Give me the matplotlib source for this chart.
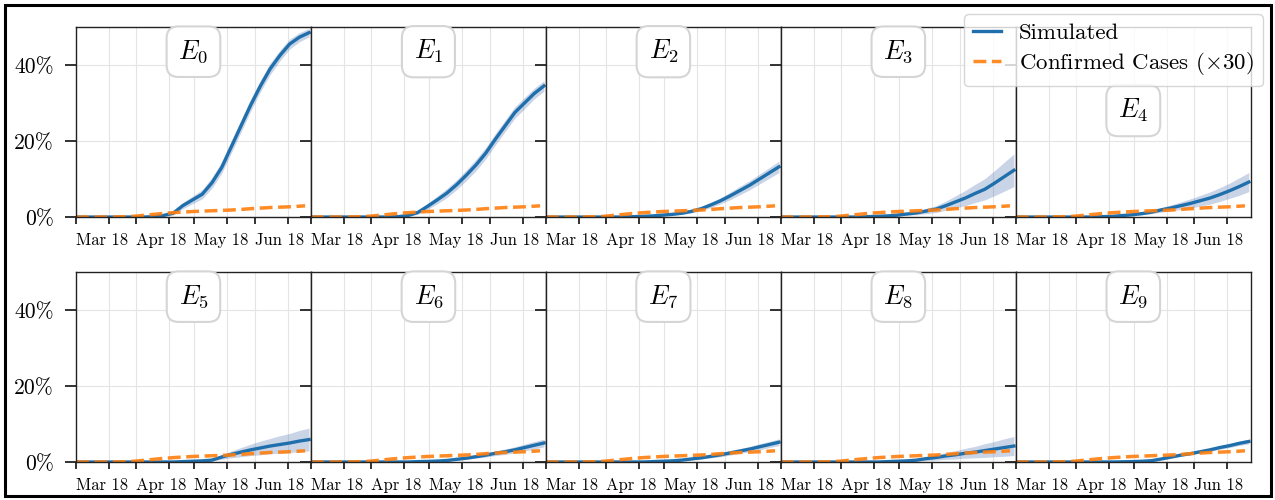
import datetime as dt
import matplotlib
matplotlib.use("Agg")
import matplotlib.pyplot as plt
import matplotlib.dates as mdates
from matplotlib.ticker import PercentFormatter, MultipleLocator
from matplotlib.patches import Rectangle

plt.rcParams['font.family'] = 'cmr10'
plt.rcParams['mathtext.fontset'] = 'cm'
plt.rcParams['axes.formatter.use_mathtext'] = True

# days after 1 March (one point every five days)
sim_days = [0, 5, 10, 15, 20, 25, 30, 35, 40, 45, 50, 55, 60, 65, 70, 75, 80, 85, 90, 95, 100, 105, 110, 115, 120]
conf_days = [0, 5, 10, 15, 20, 25, 30, 35, 40, 45, 50, 55, 60, 65, 70, 75, 80, 85, 90, 95, 100, 105, 110, 115, 118]

# confirmed cases x30, in percent
confirmed = [0, 0, 0, 0, 0.02, 0.08, 0.2, 0.45, 0.7, 0.95, 1.15, 1.3, 1.45, 1.55, 1.65,
             1.75, 1.85, 2.0, 2.2, 2.35, 2.5, 2.6, 2.7, 2.85, 2.95]

# simulated mean, in percent
sim_mean = [
    [0, 0, 0, 0, 0, 0, 0, 0, 0.1, 0.4, 1.0, 3.0, 4.5, 6.0, 9.0, 13.0, 18.5, 24.0, 29.5, 34.5, 39.0, 42.5, 45.5, 47.3, 48.5],
    [0, 0, 0, 0, 0, 0, 0, 0, 0, 0.1, 0.4, 1.2, 2.8, 4.5, 6.3, 8.5, 11.0, 13.7, 16.8, 20.5, 24.0, 27.5, 30.0, 32.5, 34.5],
    [0, 0, 0, 0, 0, 0, 0, 0, 0, 0.1, 0.2, 0.3, 0.5, 0.7, 1.0, 1.5, 2.2, 3.2, 4.3, 5.6, 7.0, 8.4, 10.0, 11.6, 13.2],
    [0, 0, 0, 0, 0, 0, 0, 0, 0, 0.1, 0.2, 0.3, 0.5, 0.8, 1.1, 1.6, 2.1, 3.0, 4.0, 5.0, 6.2, 7.3, 8.9, 10.6, 12.3],
    [0, 0, 0, 0, 0, 0, 0, 0, 0, 0.1, 0.2, 0.4, 0.6, 0.9, 1.3, 1.9, 2.4, 3.0, 3.6, 4.3, 5.0, 5.9, 6.9, 8.0, 9.2],
    [0, 0, 0, 0, 0, 0, 0, 0, 0, 0, 0, 0.1, 0.2, 0.3, 0.5, 1.3, 2.0, 2.6, 3.2, 3.7, 4.2, 4.6, 5.0, 5.5, 5.9],
    [0, 0, 0, 0, 0, 0, 0, 0, 0, 0, 0, 0.1, 0.15, 0.25, 0.4, 0.7, 1.0, 1.4, 1.8, 2.3, 2.7, 3.2, 3.8, 4.4, 5.0],
    [0, 0, 0, 0, 0, 0, 0, 0, 0, 0, 0, 0.1, 0.2, 0.3, 0.5, 0.8, 1.1, 1.5, 1.9, 2.4, 2.9, 3.4, 4.0, 4.6, 5.2],
    [0, 0, 0, 0, 0, 0, 0, 0, 0, 0, 0, 0.1, 0.2, 0.3, 0.5, 0.9, 1.2, 1.6, 1.9, 2.3, 2.6, 3.0, 3.4, 3.8, 4.2],
    [0, 0, 0, 0, 0, 0, 0, 0, 0, 0, 0, 0.05, 0.1, 0.2, 0.35, 0.8, 1.3, 1.8, 2.2, 2.7, 3.2, 3.8, 4.3, 4.9, 5.4],
]

# half width of the shaded band, in percent
sim_spread = [
    [0, 0, 0, 0, 0, 0, 0, 0, 0.05, 0.2, 0.5, 0.8, 1.0, 1.2, 1.4, 1.5, 1.6, 1.6, 1.6, 1.5, 1.5, 1.4, 1.3, 1.2, 1.1],
    [0, 0, 0, 0, 0, 0, 0, 0, 0, 0.05, 0.2, 0.5, 0.8, 1.0, 1.2, 1.3, 1.4, 1.5, 1.5, 1.5, 1.5, 1.5, 1.5, 1.4, 1.4],
    [0, 0, 0, 0, 0, 0, 0, 0, 0, 0, 0.05, 0.1, 0.15, 0.2, 0.3, 0.4, 0.5, 0.7, 0.8, 1.0, 1.1, 1.2, 1.3, 1.4, 1.5],
    [0, 0, 0, 0, 0, 0, 0, 0, 0, 0, 0.05, 0.1, 0.2, 0.3, 0.5, 0.7, 0.9, 1.2, 1.6, 2.0, 2.4, 2.8, 3.3, 3.8, 4.3],
    [0, 0, 0, 0, 0, 0, 0, 0, 0, 0, 0.05, 0.1, 0.2, 0.3, 0.4, 0.6, 0.8, 1.0, 1.2, 1.4, 1.6, 1.8, 2.0, 2.3, 2.5],
    [0, 0, 0, 0, 0, 0, 0, 0, 0, 0, 0, 0.05, 0.1, 0.1, 0.2, 0.6, 0.9, 1.2, 1.5, 1.8, 2.0, 2.3, 2.5, 2.8, 3.0],
    [0, 0, 0, 0, 0, 0, 0, 0, 0, 0, 0, 0.05, 0.05, 0.1, 0.15, 0.2, 0.3, 0.4, 0.5, 0.6, 0.7, 0.8, 0.9, 1.0, 1.0],
    [0, 0, 0, 0, 0, 0, 0, 0, 0, 0, 0, 0.05, 0.05, 0.1, 0.15, 0.2, 0.3, 0.4, 0.5, 0.6, 0.6, 0.7, 0.8, 0.8, 0.9],
    [0, 0, 0, 0, 0, 0, 0, 0, 0, 0, 0, 0.05, 0.1, 0.15, 0.3, 0.5, 0.7, 0.9, 1.1, 1.3, 1.5, 1.8, 2.0, 2.3, 2.5],
    [0, 0, 0, 0, 0, 0, 0, 0, 0, 0, 0, 0.05, 0.05, 0.05, 0.1, 0.15, 0.2, 0.25, 0.3, 0.35, 0.4, 0.45, 0.5, 0.55, 0.6],
]

panel_names = ['$E_{%d}$' % i for i in range(10)]

start = dt.date(2018, 3, 1)
sim_dates = [start + dt.timedelta(days=d) for d in sim_days]
conf_dates = [start + dt.timedelta(days=d) for d in conf_days]

fig, axes = plt.subplots(2, 5, figsize=(12.75, 5), dpi=100, sharey=True)
fig.subplots_adjust(left=0.0596, right=0.981, bottom=0.076, top=0.946, wspace=0, hspace=0.289)

for i, ax in enumerate(axes.flat):
    lo = [m - s for m, s in zip(sim_mean[i], sim_spread[i])]
    hi = [m + s for m, s in zip(sim_mean[i], sim_spread[i])]
    ax.fill_between(sim_dates, lo, hi, color='#4c72b0', alpha=0.3, lw=0)
    ax.plot(sim_dates, sim_mean[i], color='#1f6fad', lw=2.4, label='Simulated')
    ax.plot(conf_dates, confirmed, color='#ff7f0e', lw=2.5, ls='--', alpha=0.9,
            label=r'Confirmed Cases ($\times$30)')

    ax.set_xlim(start, dt.date(2018, 6, 30))
    ax.set_ylim(0, 50)
    ax.yaxis.set_major_locator(MultipleLocator(20))
    ax.yaxis.set_major_formatter(PercentFormatter(100, decimals=0))
    ax.xaxis.set_major_locator(mdates.MonthLocator())
    ax.xaxis.set_major_formatter(mdates.DateFormatter('%b %y'))
    ax.xaxis.set_minor_locator(mdates.DayLocator(bymonthday=18))
    plt.setp(ax.get_xticklabels(), ha='left')

    ax.set_axisbelow(True)
    ax.grid(True, which='major', color='#e4e4e4', lw=0.8)
    ax.xaxis.grid(True, which='minor', color='#e4e4e4', lw=0.8)
    ax.tick_params(axis='y', length=8, width=1.3, pad=8, labelsize=15.5, color='#222222')
    ax.tick_params(axis='x', which='both', length=5, width=1.3, pad=6, labelsize=12, color='#222222')
    for sp in ax.spines.values():
        sp.set_color('#222222')
        sp.set_linewidth(1.0)

    ypos = 0.56 if i == 4 else 0.87
    ax.text(0.5, ypos, panel_names[i], transform=ax.transAxes, ha='center', va='center',
            fontsize=19, bbox=dict(boxstyle='round,pad=0.45', fc='white', ec='#d5d5d5', lw=1.5))

handles, labels = axes[0, 0].get_legend_handles_labels()
fig.legend(handles, labels, loc='upper right', bbox_to_anchor=(0.9906, 0.972),
           borderaxespad=0, fontsize=16.5, handlelength=1.2, handletextpad=0.8, framealpha=0.8,
           edgecolor='#cccccc', fancybox=True, borderpad=0.4, labelspacing=0.3)

fig.patches.append(Rectangle((4.5 / 1275, 4.5 / 500), 1 - 9 / 1275, 1 - 9 / 500,
                             transform=fig.transFigure, fill=False, ec='black', lw=2.2))

fig.savefig('out.png', dpi=100)
